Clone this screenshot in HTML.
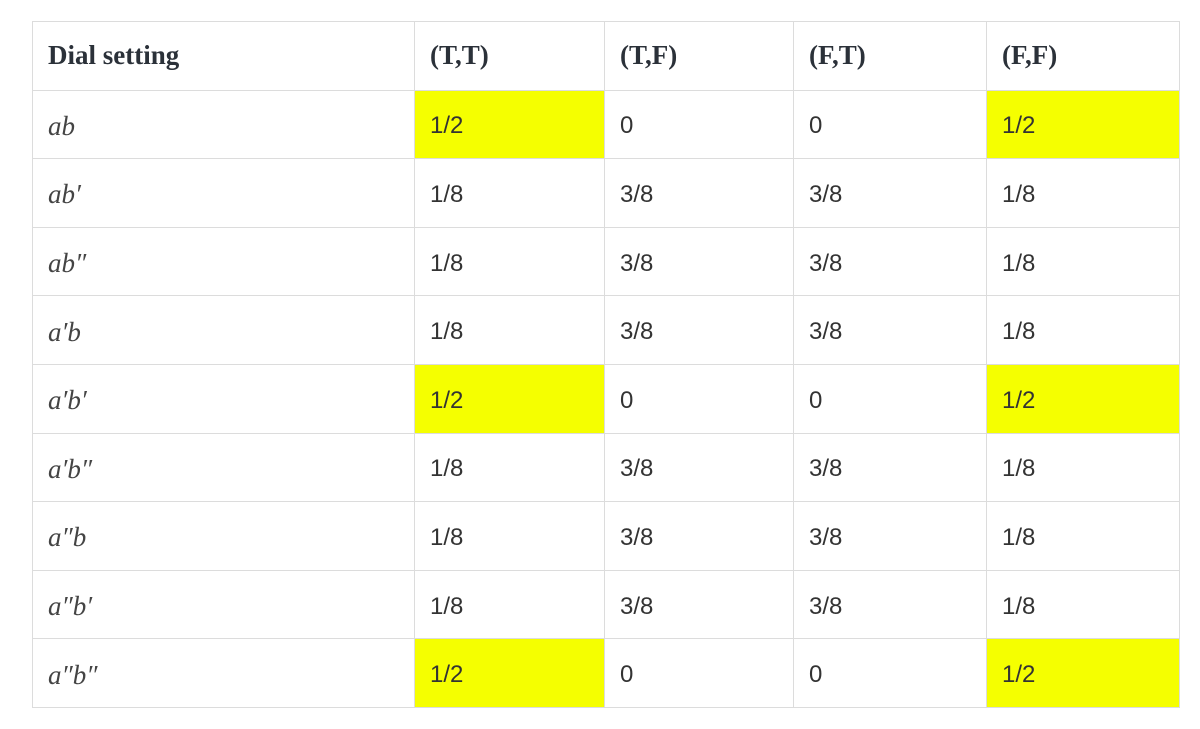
<!DOCTYPE html>
<html><head><meta charset="utf-8"><style>
body{margin:0;width:1200px;height:729px;background:#fff;overflow:hidden;position:relative}
table{position:absolute;left:32px;top:21px;border-collapse:collapse;table-layout:fixed;color:#2e3338}
td,th{border:1px solid #dcdcdc;height:68.6px;padding:4px 0 0 15px;text-align:left;vertical-align:middle;box-sizing:border-box}
th{font-family:"Liberation Serif",serif;font-weight:bold;font-size:27px;color:#2b3139;padding-top:0}
td{font-family:"Liberation Sans",sans-serif;font-size:24px;color:#333}
td.m{font-family:"Liberation Serif",serif;font-style:italic;font-size:27px;color:#444}
td.y{background:#f5ff00}
</style></head><body>
<table>
<colgroup><col style="width:382px"><col style="width:190px"><col style="width:189px"><col style="width:193px"><col style="width:193px"></colgroup>
<tr><th>Dial setting</th><th>(T,T)</th><th>(T,F)</th><th>(F,T)</th><th>(F,F)</th></tr>
<tr><td class="m">ab</td><td class="y">1/2</td><td>0</td><td>0</td><td class="y">1/2</td></tr>
<tr><td class="m">ab′</td><td>1/8</td><td>3/8</td><td>3/8</td><td>1/8</td></tr>
<tr><td class="m">ab″</td><td>1/8</td><td>3/8</td><td>3/8</td><td>1/8</td></tr>
<tr><td class="m">a′b</td><td>1/8</td><td>3/8</td><td>3/8</td><td>1/8</td></tr>
<tr><td class="m">a′b′</td><td class="y">1/2</td><td>0</td><td>0</td><td class="y">1/2</td></tr>
<tr><td class="m">a′b″</td><td>1/8</td><td>3/8</td><td>3/8</td><td>1/8</td></tr>
<tr><td class="m">a″b</td><td>1/8</td><td>3/8</td><td>3/8</td><td>1/8</td></tr>
<tr><td class="m">a″b′</td><td>1/8</td><td>3/8</td><td>3/8</td><td>1/8</td></tr>
<tr><td class="m">a″b″</td><td class="y">1/2</td><td>0</td><td>0</td><td class="y">1/2</td></tr>
</table>
</body></html>
